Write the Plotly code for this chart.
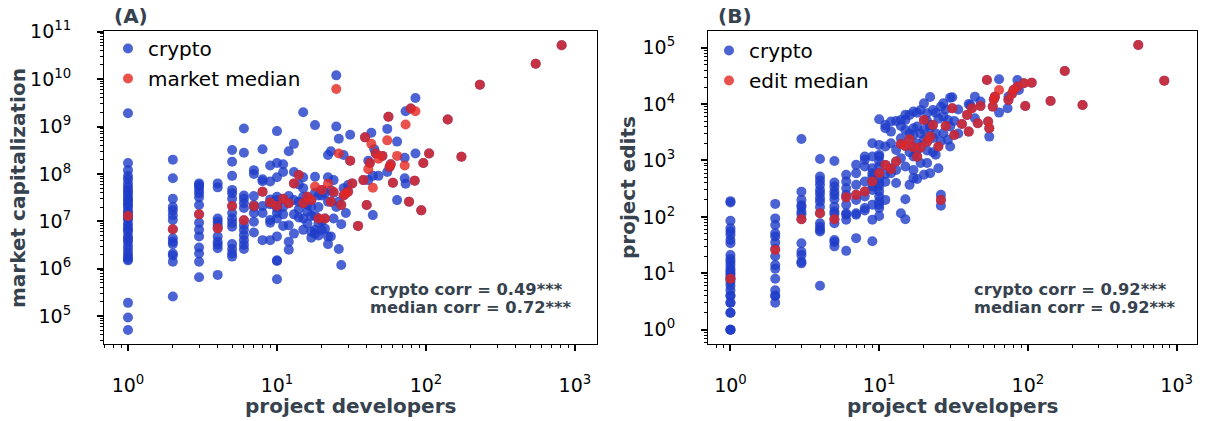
import plotly.graph_objects as go

# ---------------- data: panel A (market capitalization) ----------------
a_crypto_devs = [1, 2, 3, 4, 5, 6, 7, 8, 9, 10, 11, 12, 13, 14, 15, 16, 17, 18, 19, 20,
                 21, 22, 23, 24, 25, 26, 27, 28, 29, 30, 31, 32, 35, 38, 39, 40, 41, 42,
                 43, 44, 45, 46, 48, 51, 55, 56, 57, 58, 60, 64, 72, 73, 77, 79, 84, 85,
                 93, 96, 105, 140, 173, 230, 545, 814]
a_crypto_caps = [
    [1.9e9, 1.7e8, 1.2e8, 9.0e7, 7.7e7, 6.2e7, 5.2e7, 4.5e7, 4.0e7, 3.5e7, 3.0e7, 2.8e7,
     2.4e7, 2.2e7, 1.9e7, 1.6e7, 1.45e7, 1.3e7, 1.2e7, 1.1e7, 9.0e6, 7.8e6, 6.8e6, 6.0e6,
     4.8e6, 4.2e6, 3.7e6, 3.0e6, 2.5e6, 2.1e6, 1.8e6, 1.6e6, 1.5e6, 1.9e5, 9.3e4, 5.1e4],
    [2.0e8, 8.1e7, 3.0e7, 2.0e7, 1.7e7, 1.35e7, 1.07e7, 6.8e6, 4.4e6, 3.7e6, 3.3e6, 2.1e6,
     1.9e6, 1.4e6, 2.6e5],
    [6.3e7, 5.8e7, 5.4e7, 4.6e7, 3.9e7, 3.2e7, 2.2e7, 1.4e7, 9.3e6, 6.6e6, 4.8e6, 2.8e6,
     2.1e6, 1.4e6, 6.6e5],
    [6.3e7, 5.2e7, 1.15e7, 9.8e6, 8.3e6, 7.1e6, 4.8e6, 3.7e6, 3.2e6, 2.7e6, 7.4e5],
    [3.2e8, 1.8e8, 9.1e7, 4.6e7, 3.9e7, 3.0e7, 2.1e7, 1.5e7, 1.15e7, 9.3e6, 7.7e6, 3.3e6,
     2.6e6, 2.1e6, 1.8e6],
    [9.1e8, 2.8e8, 3.5e7, 3.0e7, 2.4e7, 1.9e7, 1.05e7, 8.3e6, 6.6e6, 5.1e6, 4.0e6, 3.2e6, 2.6e6],
    [1.2e8, 1.0e8, 3.4e7, 2.2e7, 2.0e7, 1.5e7, 9.8e6, 5.8e6],
    [3.3e8, 7.7e7, 7.0e7, 4.2e7, 2.1e7, 1.5e7, 4.0e6],
    [1.5e8, 6.9e7, 2.9e7, 2.5e7, 2.3e7, 1.07e7, 9.3e6, 4.0e6],
    [8.0e8, 1.7e8, 8.5e7, 3.3e7, 2.8e7, 2.2e7, 2.1e7, 1.9e7, 1.5e7, 1.15e7, 4.8e6, 1.5e6,
     1.45e6, 6.0e5],
    [1.6e8, 1.1e8, 3.0e7, 2.0e7, 1.4e7, 8.0e6],
    [3.0e8, 3.4e7, 2.4e7, 8.3e6, 3.7e6, 2.5e6],
    [4.3e8, 1.1e8, 6.3e7, 2.8e7, 1.4e7, 5.5e6],
    [9.5e7, 6.0e7, 2.6e7, 1.8e7, 1.2e7],
    [2.0e9, 8.5e7, 5.0e7, 3.3e7, 2.4e7, 1.15e7, 6.6e6],
    [3.3e7, 2.2e7, 1.6e7, 9.0e6],
    [2.8e7, 2.0e7, 1.3e7, 6.0e6, 4.5e6],
    [1.07e9, 8.7e7, 4.0e7, 1.3e7, 6.6e6, 5.5e6],
    [3.5e7, 2.0e7, 1.15e7, 9.0e6, 5.0e6],
    [4.6e7, 3.5e7, 1.0e7, 6.5e6],
    [3.9e7, 1.15e7, 7.0e6],
    [2.5e8, 8.5e7, 2.6e7, 4.8e6, 3.3e6],
    [3.0e8, 4.5e7, 2.6e7, 4.8e6],
    [7.4e7, 4.0e7, 1.15e7],
    [1.2e10, 1.0e9, 2.0e7],
    [5.5e8, 2.6e7, 2.6e6],
    [2.2e7, 8.7e6, 1.2e6],
    [2.5e8, 5.0e7, 3.5e7],
    [3.9e7, 1.5e7],
    [5.8e7, 4.2e7],
    [6.7e8, 1.9e8],
    [6.3e7], [8.0e6], [7.4e7], [5.9e8], [2.2e7], [1.9e8, 7.4e7], [1.7e8], [7.4e8],
    [9.1e7, 1.35e7], [3.3e8], [2.7e8], [9.1e7], [2.4e8], [8.9e8, 1.1e8], [1.6e9], [1.4e8],
    [1.6e8], [6.5e7], [4.8e8, 2.8e7], [2.2e8, 8.1e7], [2.1e9, 6.2e7], [2.6e7], [2.4e9],
    [7.2e7], [4.0e9, 2.7e8], [1.7e7], [1.7e8], [2.7e8], [1.4e9], [2.3e8], [7.6e9],
    [2.1e10], [5.2e10],
]
a_median_devs = [1, 2, 3, 4, 5, 6, 7, 8, 9, 10, 11, 12, 13, 14, 15, 16, 17, 18, 19, 20,
                 21, 22, 23, 24, 25, 26, 27, 28, 29, 30, 31, 32, 35, 38, 39, 40, 41, 42,
                 43, 44, 46, 48, 51, 55, 56, 57, 58, 60, 64, 72, 73, 77, 79, 84, 85, 93,
                 96, 105, 140, 173, 230, 545, 814]
a_median_caps = [1.3e7, 6.8e6, 1.4e7, 7.1e6, 2.1e7, 1.05e7, 2.1e7, 4.2e7, 2.5e7, 2.1e7,
                 3.0e7, 2.4e7, 6.3e7, 9.5e7, 2.4e7, 3.3e7, 2.8e7, 5.4e7, 1.15e7, 4.6e7,
                 1.15e7, 6.2e7, 2.6e7, 4.2e7, 6.2e9, 2.7e8, 2.2e7, 3.5e7, 3.9e7, 4.2e7,
                 1.9e8, 6.3e7, 8.0e6, 7.4e7, 5.9e8, 2.2e7, 1.26e8, 1.7e8, 4.3e8, 5.1e7,
                 2.7e8, 2.1e8, 2.4e8, 5.1e8, 1.6e9, 1.4e8, 1.6e8, 6.5e7, 2.4e8, 1.5e8,
                 1.1e9, 2.6e7, 2.4e9, 7.2e7, 2.1e9, 1.7e7, 1.7e8, 2.7e8, 1.4e9, 2.3e8,
                 7.6e9, 2.1e10, 5.2e10]

# ---------------- data: panel B (project edits) ----------------
b_crypto_devs = [1, 2, 3, 4, 5, 6, 7, 8, 9, 10, 11, 12, 13, 14, 15, 16, 17, 18, 19, 20,
                 21, 22, 23, 24, 25, 26, 27, 28, 29, 30, 31, 32, 34, 36, 39, 40, 41, 42,
                 44, 46, 48, 53, 54, 55, 58, 59, 60, 64, 73, 74, 78, 80, 85, 87, 94, 96,
                 106, 142, 177, 233, 552, 826]
b_crypto_edits = [
    [190, 180, 85, 63, 55, 48, 39, 34, 21, 18, 16, 14, 12, 11, 10, 9, 8, 8, 7, 6, 5, 4, 4,
     3, 3, 2, 2, 1, 1, 1],
    [170, 94, 72, 51, 45, 35, 27, 20, 14, 12, 8, 5, 4, 4, 3],
    [2400, 280, 200, 160, 150, 125, 110, 91, 34, 24, 21, 16, 15],
    [1060, 520, 440, 370, 300, 260, 215, 185, 150, 116, 77, 67, 59, 55, 6],
    [980, 405, 344, 280, 244, 205, 152, 124, 113, 91, 77, 39, 36, 30],
    [556, 424, 323, 246, 222, 164, 116, 109, 89, 25],
    [836, 596, 370, 246, 200, 116, 109, 42],
    [1175, 1025, 782, 424, 282, 230, 143, 130],
    [2020, 1175, 730, 596, 519, 424, 345, 301, 164, 89, 37],
    [5380, 1890, 1256, 1175, 958, 782, 596, 486, 396, 345, 282, 230, 187, 164, 143, 104],
    [4270, 3720, 1770, 835, 580, 420, 200],
    [4900, 3250, 2020, 730, 697, 596],
    [5000, 1540, 958, 680, 400],
    [5240, 4100, 2480, 1960, 1100, 116],
    [6460, 5240, 3480, 1810, 782, 206, 91],
    [6430, 3000, 2370, 1400, 370],
    [7400, 3720, 2840, 1710, 1175, 680, 486],
    [7000, 4000, 2000, 1500, 1170, 470],
    [7870, 3000, 1710, 900],
    [10300, 5220, 3480, 2320, 560],
    [6870, 5000, 2160, 1500, 900],
    [13400, 4270, 3720, 2650, 596],
    [7870, 4270, 2500, 1400],
    [7000, 3000, 1260],
    [5500, 1770, 730],
    [9000, 2200, 246, 200, 157],
    [10330, 6000, 3040],
    [8000, 4100],
    [5240, 2320],
    [13000, 4000, 1770],
    [13200, 8430],
    [5000, 2840],
    [8000, 3000], [4450], [6430], [10000, 3250], [9660], [8430], [13550, 5620], [4570],
    [11070, 9270], [26730], [4900], [3720, 2650], [9020], [12160], [13550],
    [27500, 7060], [8430], [13550, 11830], [15130], [17780], [26730, 20370], [17780],
    [23350], [9270], [24000], [11350], [38600], [9660], [111400], [26060],
]
b_median_devs = [1, 2, 3, 4, 5, 6, 7, 8, 9, 10, 11, 12, 13, 14, 15, 16, 17, 18, 19, 20,
                 21, 22, 23, 25, 26, 28, 31, 32, 36, 39, 40, 42, 46, 48, 53, 54, 55, 58,
                 59, 60, 64, 74, 78, 80, 85, 94, 96, 106, 142, 177, 233, 552, 826]
b_median_edits = [8, 26, 91, 116, 91, 222, 246, 282, 424, 596, 835, 697, 958, 1960, 1810,
                  2370, 1710, 1170, 1710, 5220, 2160, 2650, 4270, 1770, 200, 4100, 8430,
                  2840, 4450, 6430, 3250, 8430, 4570, 9270, 26730, 4900, 3720, 9020,
                  12160, 13550, 17780, 11830, 15130, 17780, 20370, 23350, 9270, 24000,
                  11350, 38600, 9660, 111400, 26060]

panel_titles = ["(A)", "(B)"]
y_titles = ["market capitalization", "project edits"]
x_title = "project developers"
a_stats = ["crypto corr = 0.49***", "median corr = 0.72***"]
b_stats = ["crypto corr = 0.92***", "median corr = 0.92***"]
a_legend = ["crypto", "market median"]
b_legend = ["crypto", "edit median"]


def flatten(devs, groups):
    xs, ys = [], []
    for d, vals in zip(devs, groups):
        for v in vals:
            xs.append(d)
            ys.append(v)
    return xs, ys


BLUE = "rgb(30,60,200)"
RED = "rgb(228,38,32)"
SLATE = "#36424e"
FONT = "DejaVu Sans"

# plot-area geometry in pixels (figure 1205 x 421)
W, H = 1205, 421
L, R, T, B = 104, 1197, 31, 344


def px(x):
    return (x - L) / (R - L)


def py(y):
    return (B - y) / (B - T)


fig = go.Figure()


def add_points(xs, ys, color, name, xa, ya, legend):
    fig.add_trace(go.Scatter(
        x=xs, y=ys, mode="markers", name=name, xaxis=xa, yaxis=ya, legend=legend,
        legendgroup=name + legend,
        marker=dict(color=color, size=10, opacity=0.8, line=dict(width=0)),
    ))


ax, ay = flatten(a_crypto_devs, a_crypto_caps)
add_points(ax, ay, BLUE, a_legend[0], "x", "y", "legend")
add_points(a_median_devs, a_median_caps, RED, a_legend[1], "x", "y", "legend")
bx, by = flatten(b_crypto_devs, b_crypto_edits)
add_points(bx, by, BLUE, b_legend[0], "x2", "y2", "legend2")
add_points(b_median_devs, b_median_edits, RED, b_legend[1], "x2", "y2", "legend2")


def minor_vals(e0, e1):
    return [m * 10 ** e for e in range(e0, e1) for m in range(2, 10)]


def log_axis(rng, e0, e1, domain, anchor, standoff):
    return dict(
        type="log", range=rng, domain=domain, anchor=anchor,
        tickmode="array",
        tickvals=[10 ** e for e in range(e0, e1 + 1)],
        ticktext=["10<sup>%d</sup>" % e for e in range(e0, e1 + 1)],
        ticks="outside", ticklen=6, tickwidth=2, tickcolor="black",
        ticklabelstandoff=standoff,
        tickfont=dict(family=FONT, size=19, color="black"),
        minor=dict(tickmode="array", tickvals=minor_vals(e0 - 1, e1 + 1), ticks="outside",
                   ticklen=3, tickwidth=1, tickcolor="black", showgrid=False),
        showline=True, linecolor="black", linewidth=1, mirror=True,
        showgrid=False, zeroline=False,
    )


dom_a = [0, px(597)]
dom_b = [px(708), 1]

fig.update_layout(
    width=W, height=H,
    margin=dict(l=L, r=W - R, t=T, b=H - B, pad=0),
    paper_bgcolor="white", plot_bgcolor="white",
    font=dict(family=FONT, color="black"),
    xaxis=log_axis([-0.161, 3.148], 0, 3, dom_a, "y", 18),
    yaxis=log_axis([4.411, 11.015], 5, 11, [0, 1], "x", 22),
    xaxis2=log_axis([-0.151, 3.137], 0, 3, dom_b, "y2", 18),
    yaxis2=log_axis([-0.254, 5.296], 0, 5, [0, 1], "x2", 22),
    legend=dict(x=px(108), y=py(29), xanchor="left", yanchor="top",
                font=dict(family=FONT, size=20, color="black"),
                bgcolor="rgba(0,0,0,0)", borderwidth=0, tracegroupgap=1,
                itemwidth=30),
    legend2=dict(x=px(709), y=py(31), xanchor="left", yanchor="top",
                 font=dict(family=FONT, size=20, color="black"),
                 bgcolor="rgba(0,0,0,0)", borderwidth=0, tracegroupgap=1,
                 itemwidth=30),
    showlegend=True,
)

ann = []
# panel titles
for title, xpix in zip(panel_titles, [112, 716]):
    ann.append(dict(text="<b>%s</b>" % title, x=px(xpix), y=py(16), xanchor="left",
                    yanchor="middle", font=dict(family=FONT, size=20, color=SLATE)))
# x titles
for xc in [(104 + 597) / 2, (708 + 1197) / 2]:
    ann.append(dict(text="<b>%s</b>" % x_title, x=px(xc), y=py(406), xanchor="center",
                    yanchor="middle", font=dict(family=FONT, size=20, color=SLATE)))
# y titles
for title, xc in zip(y_titles, [18, 628]):
    ann.append(dict(text="<b>%s</b>" % title, x=px(xc), y=py(188), xanchor="center",
                    yanchor="middle", textangle=-90,
                    font=dict(family=FONT, size=20, color=SLATE)))
# correlation texts
for lines, xl in zip([a_stats, b_stats], [368, 972]):
    for line, yc in zip(lines, [289, 307]):
        ann.append(dict(text="<b>%s</b>" % line, x=px(xl), y=py(yc), xanchor="left",
                        yanchor="middle", font=dict(family=FONT, size=16.3, color=SLATE)))
for a in ann:
    a.update(xref="paper", yref="paper", showarrow=False)
fig.update_layout(annotations=ann)

fig.write_html("out.html", config={"displayModeBar": False},
               post_script="document.body.style.margin='0';document.body.style.padding='0';")
